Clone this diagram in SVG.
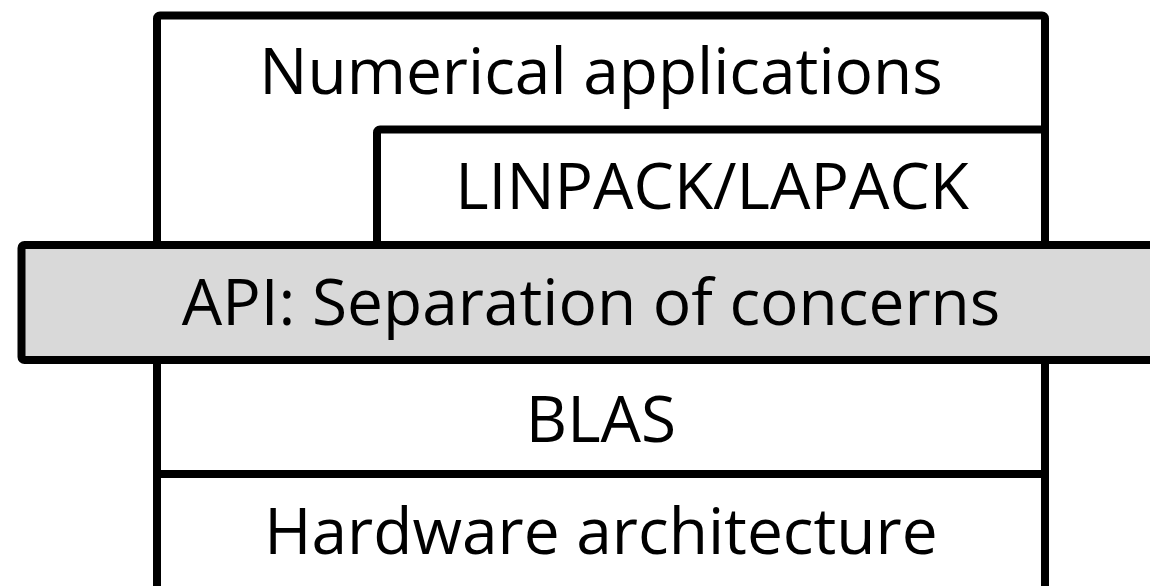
<svg xmlns="http://www.w3.org/2000/svg" width="1150" height="586" viewBox="0 0 1150 586">
<style>
.box{fill:#fff;stroke:#000;stroke-width:8;stroke-linejoin:round}
.api{fill:#d9d9d9;stroke:#000;stroke-width:8;stroke-linejoin:round}
.lbl{font-family:"Open Sans","Noto Sans",sans-serif;font-size:64px;fill:#000;text-anchor:middle}
</style>
<rect width="1150" height="586" fill="#fff"/>
<g id="numerical">
<rect class="box" x="157" y="15.5" width="888" height="620" rx="3"/>
<text class="lbl" x="601" y="94">Numerical applications</text>
</g>
<g id="linpack">
<rect class="box" x="377" y="129.5" width="668" height="116" rx="3"/>
<text class="lbl" x="712" y="209">LINPACK/LAPACK</text>
</g>
<g id="hardware">
<rect class="box" x="157" y="474" width="888" height="200" rx="3"/>
<text class="lbl" x="601" y="554">Hardware architecture</text>
</g>
<g id="blas">
<rect class="box" x="157" y="360" width="888" height="114"/>
<text class="lbl" x="601" y="442">BLAS</text>
</g>
<g id="api">
<rect class="api" x="21.5" y="245" width="1150" height="115" rx="3"/>
<text class="lbl" x="591" y="325">API: Separation of concerns</text>
</g>
<g id="connectors"/>
</svg>
